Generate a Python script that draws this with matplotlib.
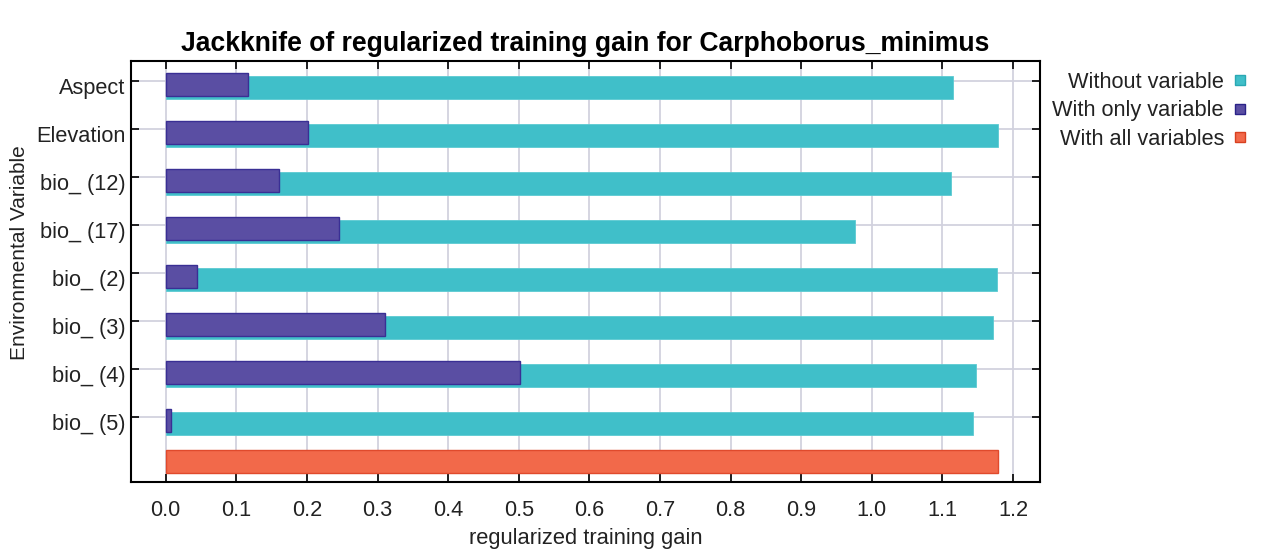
import matplotlib.pyplot as plt
from matplotlib.lines import Line2D

plt.rcParams['font.family'] = ['Liberation Sans', 'DejaVu Sans']

variables = ['Aspect', 'Elevation', 'bio_ (12)', 'bio_ (17)', 'bio_ (2)', 'bio_ (3)', 'bio_ (4)', 'bio_ (5)']
without_var = [1.115, 1.179, 1.112, 0.976, 1.178, 1.171, 1.148, 1.143]
only_var = [0.117, 0.202, 0.161, 0.245, 0.045, 0.310, 0.502, 0.007]
all_vars = 1.179

c_without = '#40BFC9'
c_only = '#5A4EA3'
c_all = '#F2694A'

fig = plt.figure(figsize=(12.64, 5.53), dpi=100)
ax = fig.add_axes([131 / 1264, 71 / 553, 909 / 1264, 421 / 553])

pos = list(range(len(variables)))
ax.barh([p + 0.145 for p in pos], without_var, height=0.485, color=c_without,
        edgecolor='#5CCAD2', linewidth=0.6, zorder=3)
ax.barh([p + 0.075 for p in pos], only_var, height=0.49, color=c_only,
        edgecolor='#3A2F94', linewidth=1.0, zorder=4)
ax.barh([7.94], [all_vars], height=0.485, color=c_all,
        edgecolor='#E04A2C', linewidth=1.0, zorder=3)

# tick marks + grid on major ticks, names on minor ticks a bit lower (as in original)
ax.set_yticks(pos)
ax.set_yticklabels([])
ax.set_yticks([p + 0.11 for p in pos], minor=True)
ax.set_yticklabels(variables, minor=True)
ax.set_ylim(8.36, -0.41)
ax.set_xlim(-0.0491, 1.2382)
ax.set_xticks([i / 10 for i in range(13)])
ax.set_xticklabels(['%.1f' % (i / 10) for i in range(13)])

ax.grid(True, which='major', color='#D2D2DE', linewidth=1.3, zorder=0)
ax.set_axisbelow(True)
ax.tick_params(direction='in', length=6, width=1.2, top=True, right=True,
               labelsize=15.7, colors='black', labelcolor='#222222')
ax.tick_params(axis='y', which='minor', length=0, left=False, right=False, pad=4,
               labelsize=15.7, labelcolor='#222222')
ax.tick_params(axis='x', pad=13)
for s in ax.spines.values():
    s.set_linewidth(1.5)

ax.set_title('Jackknife of regularized training gain for Carphoborus_minimus',
             fontsize=19.1, fontweight='bold', pad=7)
ax.set_xlabel('regularized training gain', fontsize=15.8, color='#222222', labelpad=5)
ax.set_ylabel('Environmental Variable', fontsize=15, color='#222222')
ax.yaxis.set_label_coords(-0.112, 0.546)

handles = [
    Line2D([], [], marker='s', linestyle='none', markersize=7, markerfacecolor=c_without, markeredgecolor='#2AA8B3'),
    Line2D([], [], marker='s', linestyle='none', markersize=7, markerfacecolor=c_only, markeredgecolor='#2A2288'),
    Line2D([], [], marker='s', linestyle='none', markersize=7, markerfacecolor=c_all, markeredgecolor='#D8401F'),
]
fig.legend(handles, ['Without variable', 'With only variable', 'With all variables'],
           loc='upper right', bbox_to_anchor=(1249 / 1264, 1 - 72 / 553),
           frameon=False, markerfirst=False, fontsize=15.7, borderpad=0, borderaxespad=0,
           handlelength=0.8, handletextpad=0.35, labelspacing=0.34, labelcolor='#222222')

fig.savefig('out.png', dpi=100)
